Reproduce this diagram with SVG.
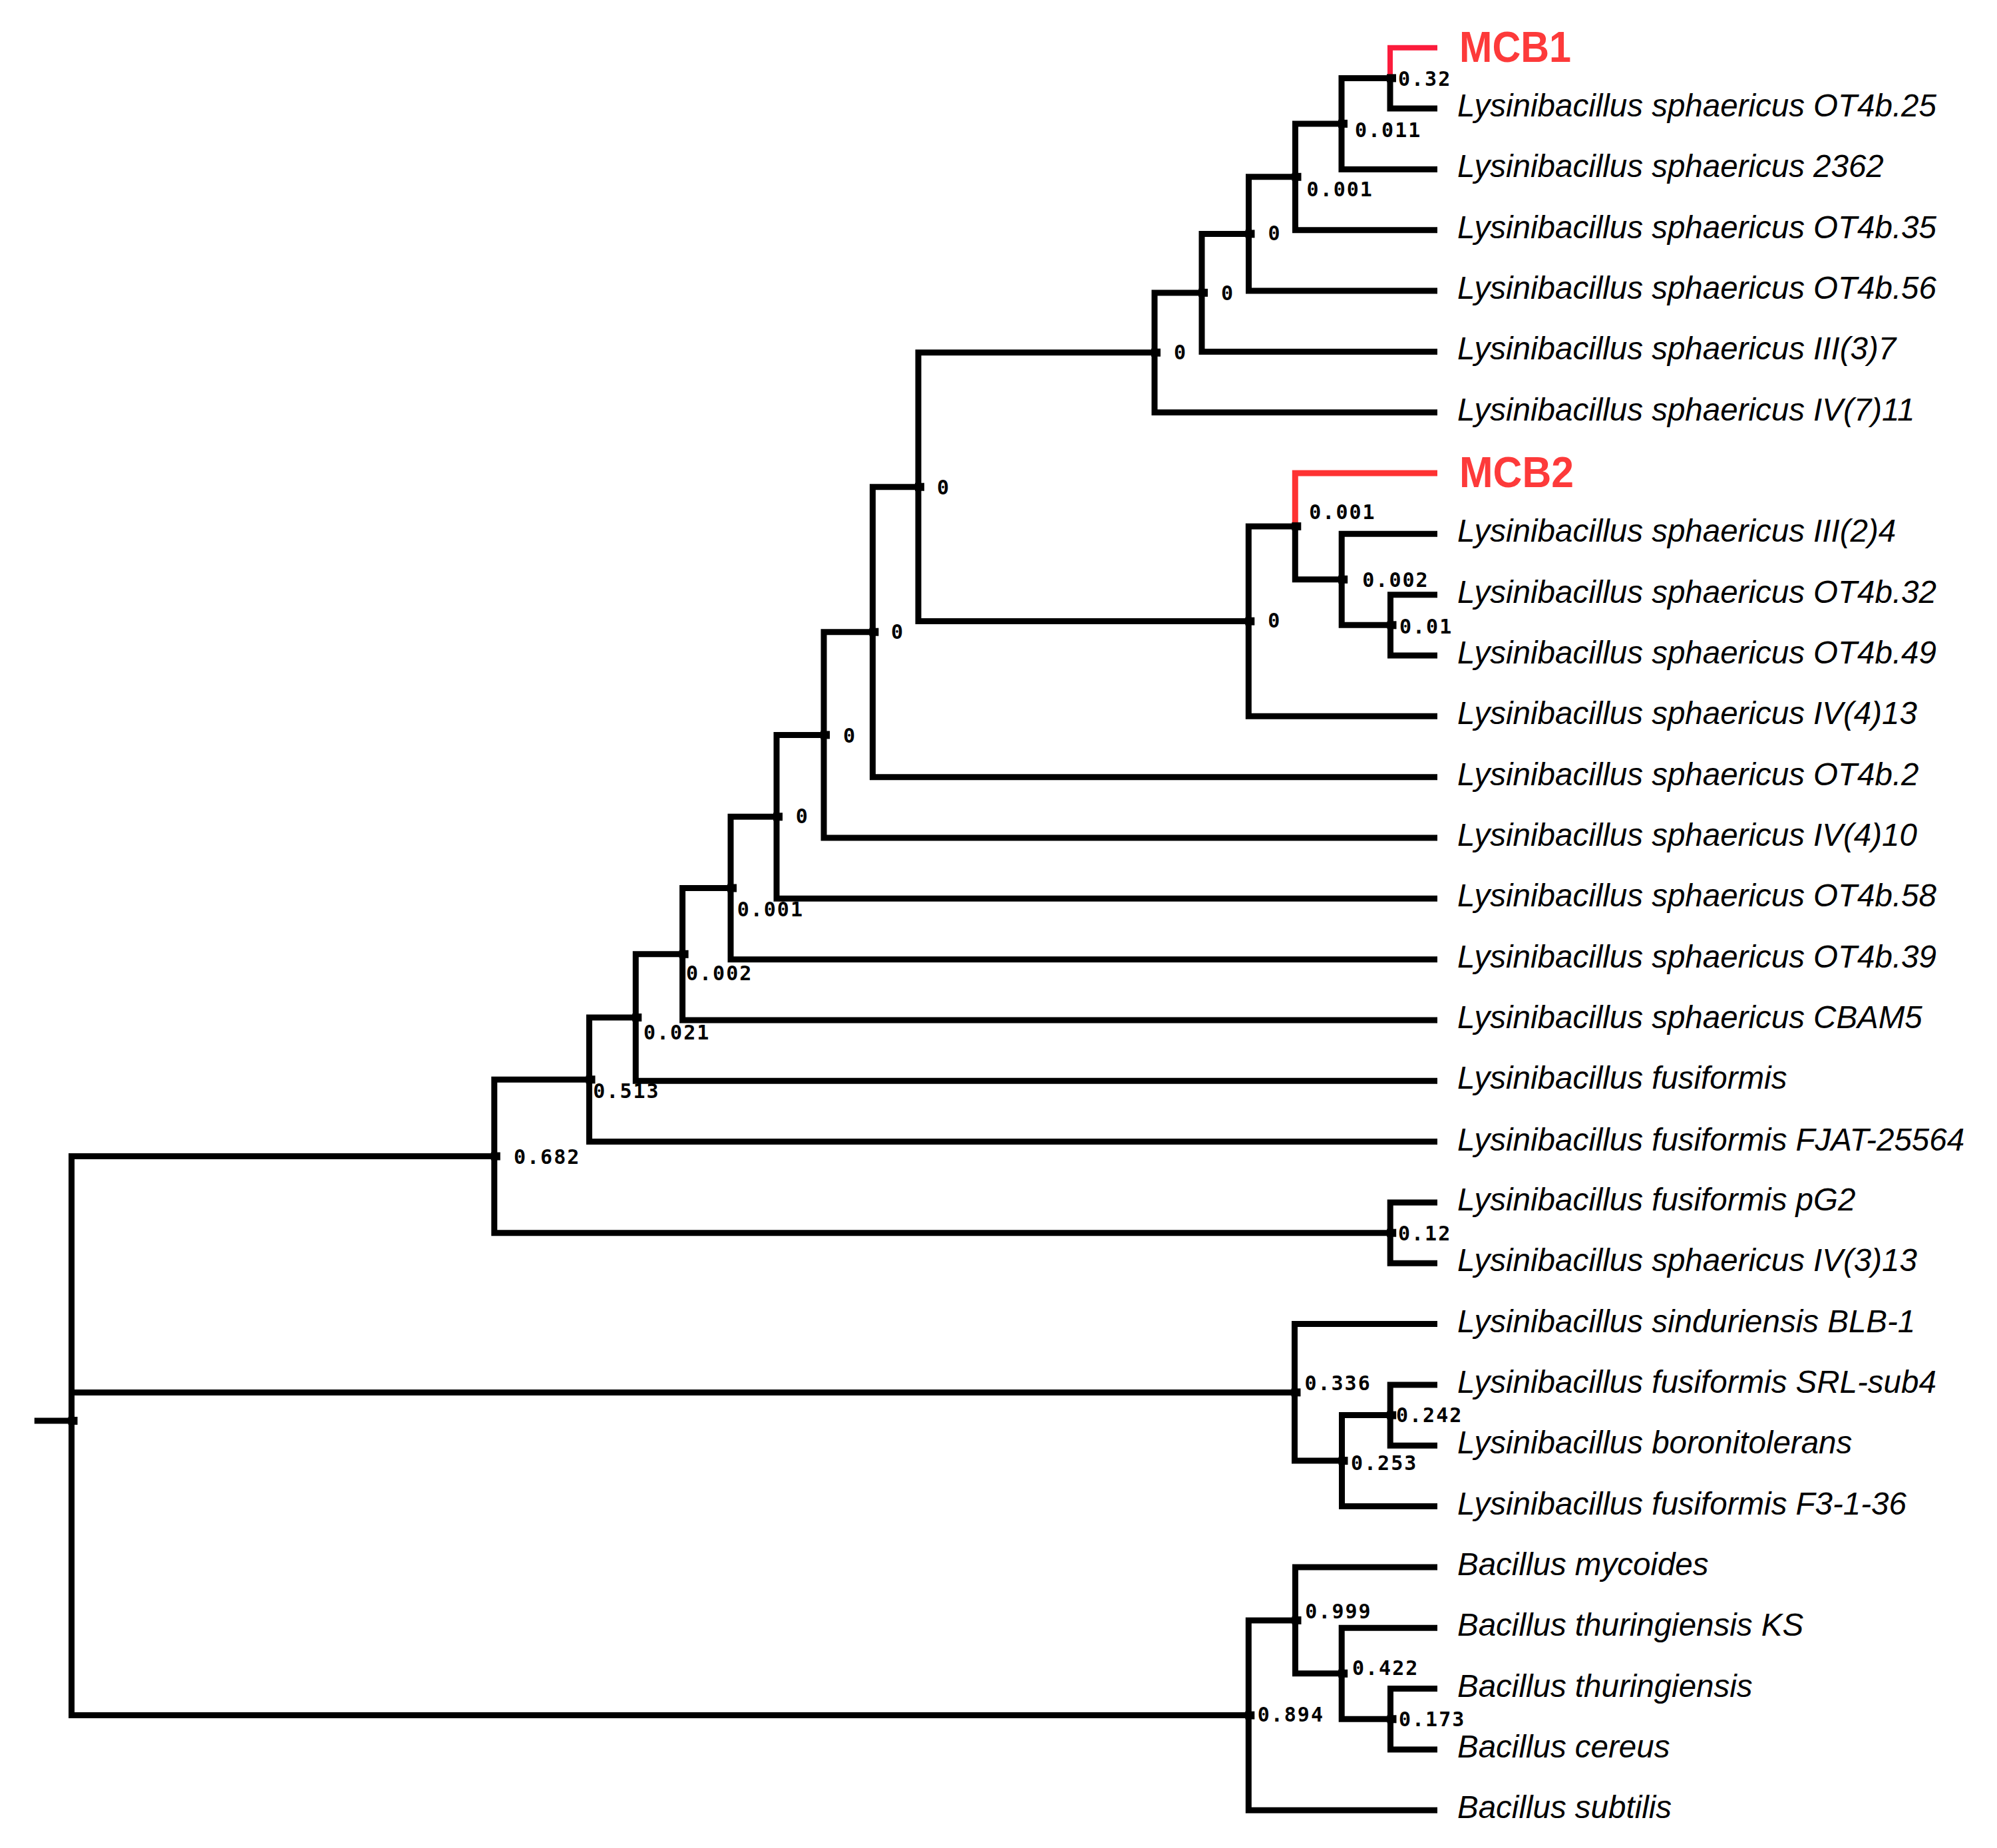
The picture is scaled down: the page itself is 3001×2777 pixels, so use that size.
<svg xmlns="http://www.w3.org/2000/svg" width="3001" height="2777" viewBox="0 0 3001 2777">
<style>
.br{fill:none;stroke:#000;stroke-width:9;stroke-linejoin:miter;stroke-linecap:butt}
.r1{fill:none;stroke:#fb1c3c;stroke-width:8;stroke-linejoin:miter}
.r2{fill:none;stroke:#fe3232;stroke-width:9;stroke-linejoin:miter}
.lf{font-family:"Liberation Sans",Arial,sans-serif;font-style:italic;font-size:47.5px;fill:#000}
.mc{font-family:"Liberation Sans",Arial,sans-serif;font-weight:bold;font-size:64px;fill:#fd3a3a}
.bs{font-family:"DejaVu Sans Mono","Liberation Mono",monospace;font-weight:bold;font-size:30px;letter-spacing:2px;fill:#000}
.mk{fill:#000}
</style>
<rect width="3001" height="2777" fill="#fff"/>
<g id="connectors">
<path class="br" d="M742.8 1737.5 H107.5 V2577.6 H1876.3"/>
<path class="br" d="M107.5 2092.4 H1945.5"/>
<path class="br" d="M51.7 2135 H107.5"/>
<path class="br" d="M885.5 1622.3 H742.8 V1852.7 H2089.2"/>
<path class="br" d="M955.3 1529 H885.5 V1715.6 H2160"/>
<path class="br" d="M1025.6 1433.8 H955.3 V1624.3 H2160"/>
<path class="br" d="M1098 1334.5 H1025.6 V1533 H2160"/>
<path class="br" d="M1167 1227.3 H1098 V1441.7 H2160"/>
<path class="br" d="M1238 1104.4 H1167 V1350.3 H2160"/>
<path class="br" d="M1311.4 949.7 H1238 V1259 H2160"/>
<path class="br" d="M1380 731.7 H1311.4 V1167.7 H2160"/>
<path class="br" d="M1735 529.8 H1380 V933.6 H1876.3"/>
<path class="br" d="M1806 439.9 H1735 V619.7 H2160"/>
<path class="br" d="M1876.5 351.4 H1806 V528.4 H2160"/>
<path class="br" d="M1946.5 265.8 H1876.5 V437 H2160"/>
<path class="br" d="M2016 185.9 H1946.5 V345.7 H2160"/>
<path class="br" d="M2089 117.4 H2016 V254.4 H2160"/>
<path class="r1" d="M2089 112 V71.7 H2160"/>
<path class="br" d="M2089 113 V163 H2160"/>
<path class="br" d="M1946.3 790.9 H1876.3 V1076.3 H2160"/>
<path class="r2" d="M1946.3 786 V711 H2160"/>
<path class="br" d="M1946.3 786 V870.8 H2016.2"/>
<path class="br" d="M2160 802.3 H2016.2 V939.3 H2089.5"/>
<path class="br" d="M2160 893.7 H2089.5 V985 H2160"/>
<path class="br" d="M2160 1807 H2089.2 V1898.3 H2160"/>
<path class="br" d="M2160 1989.6 H1945.5 V2195.1 H2016.5"/>
<path class="br" d="M2089.2 2126.6 H2016.5 V2263.6 H2160"/>
<path class="br" d="M2160 2081 H2089.2 V2172.3 H2160"/>
<path class="br" d="M1946.5 2434.9 H1876.3 V2720.3 H2160"/>
<path class="br" d="M2160 2355 H1946.5 V2514.8 H2016.2"/>
<path class="br" d="M2160 2446.3 H2016.2 V2583.3 H2089.5"/>
<path class="br" d="M2160 2537.6 H2089.5 V2628.9 H2160"/>
</g>
<g id="node-root"><rect class="mk" x="102.5" y="2129" width="14" height="12"/></g>
<g id="node-S"><rect class="mk" x="737.8" y="1731.5" width="14" height="12"/><text class="bs" x="772" y="1749">0.682</text></g>
<g id="node-R"><rect class="mk" x="880.5" y="1616.3" width="14" height="12"/><text class="bs" x="891.3" y="1650">0.513</text></g>
<g id="node-Q"><rect class="mk" x="950.3" y="1523" width="14" height="12"/><text class="bs" x="967" y="1562">0.021</text></g>
<g id="node-P"><rect class="mk" x="1020.6" y="1427.8" width="14" height="12"/><text class="bs" x="1031" y="1472.7">0.002</text></g>
<g id="node-O"><rect class="mk" x="1093" y="1328.5" width="14" height="12"/><text class="bs" x="1107.7" y="1376.8">0.001</text></g>
<g id="node-N"><rect class="mk" x="1162" y="1221.3" width="14" height="12"/><text class="bs" x="1195.7" y="1236.5">0</text></g>
<g id="node-M"><rect class="mk" x="1233" y="1098.4" width="14" height="12"/><text class="bs" x="1267" y="1115.6">0</text></g>
<g id="node-L"><rect class="mk" x="1306.4" y="943.7" width="14" height="12"/><text class="bs" x="1339" y="959.5">0</text></g>
<g id="node-K"><rect class="mk" x="1375" y="725.7" width="14" height="12"/><text class="bs" x="1408" y="742.5">0</text></g>
<g id="node-A"><rect class="mk" x="1730" y="523.8" width="14" height="12"/><text class="bs" x="1764" y="540">0</text></g>
<g id="node-B"><rect class="mk" x="1801" y="433.9" width="14" height="12"/><text class="bs" x="1835" y="450.7">0</text></g>
<g id="node-C"><rect class="mk" x="1871.5" y="345.4" width="14" height="12"/><text class="bs" x="1905.5" y="361.4">0</text></g>
<g id="node-D"><rect class="mk" x="1941.5" y="259.8" width="14" height="12"/><text class="bs" x="1963.6" y="295.4">0.001</text></g>
<g id="node-E"><rect class="mk" x="2011" y="179.9" width="14" height="12"/><text class="bs" x="2036" y="205.5">0.011</text></g>
<g id="node-F"><rect class="mk" x="2084" y="111.4" width="14" height="12"/><text class="bs" x="2101" y="129.3">0.32</text></g>
<g id="node-G"><rect class="mk" x="1871.3" y="927.6" width="14" height="12"/><text class="bs" x="1905.3" y="942.5">0</text></g>
<g id="node-H"><rect class="mk" x="1941.3" y="784.9" width="14" height="12"/><text class="bs" x="1967.3" y="780">0.001</text></g>
<g id="node-I"><rect class="mk" x="2011.2" y="864.8" width="14" height="12"/><text class="bs" x="2047.3" y="882">0.002</text></g>
<g id="node-J"><rect class="mk" x="2084.5" y="933.3" width="14" height="12"/><text class="bs" x="2103" y="951.5">0.01</text></g>
<g id="node-T"><rect class="mk" x="2084.2" y="1846.7" width="14" height="12"/><text class="bs" x="2101" y="1864">0.12</text></g>
<g id="node-U"><rect class="mk" x="1940.5" y="2086.4" width="14" height="12"/><text class="bs" x="1960.4" y="2089.2">0.336</text></g>
<g id="node-V"><rect class="mk" x="2011.5" y="2189.1" width="14" height="12"/><text class="bs" x="2030" y="2209">0.253</text></g>
<g id="node-W"><rect class="mk" x="2084.2" y="2120.6" width="14" height="12"/><text class="bs" x="2098" y="2136.6">0.242</text></g>
<g id="node-X"><rect class="mk" x="1871.3" y="2571.6" width="14" height="12"/><text class="bs" x="1889.7" y="2587">0.894</text></g>
<g id="node-Y"><rect class="mk" x="1941.5" y="2428.9" width="14" height="12"/><text class="bs" x="1961.3" y="2431.5">0.999</text></g>
<g id="node-Z"><rect class="mk" x="2011.2" y="2508.8" width="14" height="12"/><text class="bs" x="2032" y="2517">0.422</text></g>
<g id="node-AA"><rect class="mk" x="2084.5" y="2577.3" width="14" height="12"/><text class="bs" x="2102" y="2593.5">0.173</text></g>
<g id="leaf-MCB1"><text class="mc" x="2193" y="93.3" textLength="168" lengthAdjust="spacingAndGlyphs">MCB1</text></g>
<g id="leaf-OT4b25"><text class="lf" x="2190" y="175">Lysinibacillus sphaericus OT4b.25</text></g>
<g id="leaf-2362"><text class="lf" x="2190" y="266.4">Lysinibacillus sphaericus 2362</text></g>
<g id="leaf-OT4b35"><text class="lf" x="2190" y="357.7">Lysinibacillus sphaericus OT4b.35</text></g>
<g id="leaf-OT4b56"><text class="lf" x="2190" y="449">Lysinibacillus sphaericus OT4b.56</text></g>
<g id="leaf-III37"><text class="lf" x="2190" y="540.4">Lysinibacillus sphaericus III(3)7</text></g>
<g id="leaf-IV711"><text class="lf" x="2190" y="631.7">Lysinibacillus sphaericus IV(7)11</text></g>
<g id="leaf-MCB2"><text class="mc" x="2193" y="731.5" textLength="172" lengthAdjust="spacingAndGlyphs">MCB2</text></g>
<g id="leaf-III24"><text class="lf" x="2190" y="814.3">Lysinibacillus sphaericus III(2)4</text></g>
<g id="leaf-OT4b32"><text class="lf" x="2190" y="905.7">Lysinibacillus sphaericus OT4b.32</text></g>
<g id="leaf-OT4b49"><text class="lf" x="2190" y="997">Lysinibacillus sphaericus OT4b.49</text></g>
<g id="leaf-IV413"><text class="lf" x="2190" y="1088.3">Lysinibacillus sphaericus IV(4)13</text></g>
<g id="leaf-OT4b2"><text class="lf" x="2190" y="1179.7">Lysinibacillus sphaericus OT4b.2</text></g>
<g id="leaf-IV410"><text class="lf" x="2190" y="1271">Lysinibacillus sphaericus IV(4)10</text></g>
<g id="leaf-OT4b58"><text class="lf" x="2190" y="1362.3">Lysinibacillus sphaericus OT4b.58</text></g>
<g id="leaf-OT4b39"><text class="lf" x="2190" y="1453.7">Lysinibacillus sphaericus OT4b.39</text></g>
<g id="leaf-CBAM5"><text class="lf" x="2190" y="1545">Lysinibacillus sphaericus CBAM5</text></g>
<g id="leaf-fus"><text class="lf" x="2190" y="1636.3">Lysinibacillus fusiformis</text></g>
<g id="leaf-FJAT"><text class="lf" x="2190" y="1728.6">Lysinibacillus fusiformis FJAT-25564</text></g>
<g id="leaf-pG2"><text class="lf" x="2190" y="1819">Lysinibacillus fusiformis pG2</text></g>
<g id="leaf-IV313"><text class="lf" x="2190" y="1910.3">Lysinibacillus sphaericus IV(3)13</text></g>
<g id="leaf-BLB1"><text class="lf" x="2190" y="2001.6">Lysinibacillus sinduriensis BLB-1</text></g>
<g id="leaf-SRL"><text class="lf" x="2190" y="2093">Lysinibacillus fusiformis SRL-sub4</text></g>
<g id="leaf-boron"><text class="lf" x="2190" y="2184.3">Lysinibacillus boronitolerans</text></g>
<g id="leaf-F3"><text class="lf" x="2190" y="2275.6">Lysinibacillus fusiformis F3-1-36</text></g>
<g id="leaf-myc"><text class="lf" x="2190" y="2367">Bacillus mycoides</text></g>
<g id="leaf-KS"><text class="lf" x="2190" y="2458.3">Bacillus thuringiensis KS</text></g>
<g id="leaf-thur"><text class="lf" x="2190" y="2549.6">Bacillus thuringiensis</text></g>
<g id="leaf-cer"><text class="lf" x="2190" y="2640.9">Bacillus cereus</text></g>
<g id="leaf-sub"><text class="lf" x="2190" y="2732.3">Bacillus subtilis</text></g>
</svg>
